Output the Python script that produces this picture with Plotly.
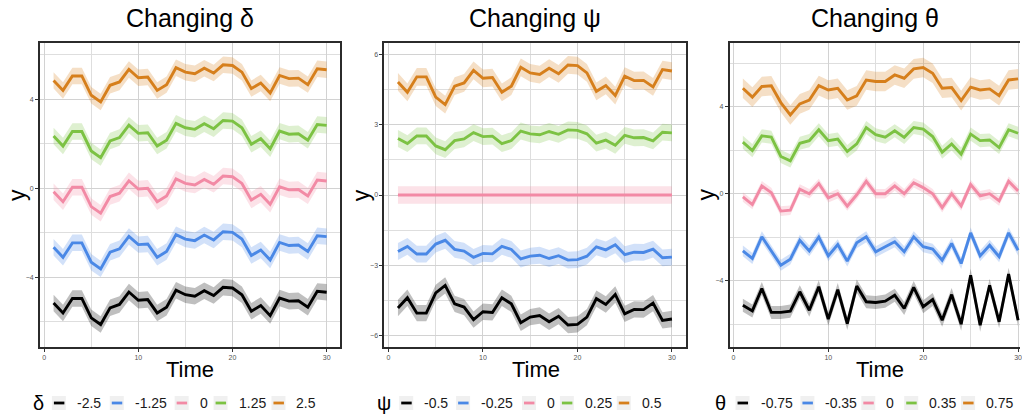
import plotly.graph_objects as go

# ---------------- data ----------------
time = list(range(1, 31))

# Panel 1: Changing delta
delta_levels = ["-2.5", "-1.25", "0", "1.25", "2.5"]
d_m25 = [-5.15,-5.60,-4.95,-4.95,-5.82,-6.12,-5.37,-5.22,-4.66,-5.03,-5.00,-5.60,-5.34,-4.58,-4.78,-4.85,-4.60,-4.82,-4.45,-4.48,-4.78,-5.52,-5.27,-5.72,-4.93,-5.07,-5.05,-5.34,-4.63,-4.67]
d_m125 = [-2.65,-3.10,-2.45,-2.45,-3.32,-3.62,-2.87,-2.72,-2.16,-2.53,-2.50,-3.10,-2.84,-2.08,-2.28,-2.35,-2.10,-2.32,-1.95,-1.98,-2.28,-3.02,-2.77,-3.22,-2.43,-2.57,-2.55,-2.84,-2.13,-2.17]
d_0 = [-0.15,-0.60,0.05,0.05,-0.82,-1.12,-0.37,-0.22,0.34,-0.03,0.00,-0.60,-0.34,0.42,0.22,0.15,0.40,0.18,0.55,0.52,0.22,-0.52,-0.27,-0.72,0.07,-0.07,-0.05,-0.34,0.37,0.33]
d_p125 = [2.35,1.90,2.55,2.55,1.68,1.38,2.13,2.28,2.84,2.47,2.50,1.90,2.16,2.92,2.72,2.65,2.90,2.68,3.05,3.02,2.72,1.98,2.23,1.78,2.57,2.43,2.45,2.16,2.87,2.83]
d_p25 = [4.85,4.40,5.05,5.05,4.18,3.88,4.63,4.78,5.34,4.97,5.00,4.40,4.66,5.42,5.22,5.15,5.40,5.18,5.55,5.52,5.22,4.48,4.73,4.28,5.07,4.93,4.95,4.66,5.37,5.33]
delta_band = [0.37, 0.37, 0.37, 0.37, 0.37]

# Panel 2: Changing psi
psi_levels = ["-0.5", "-0.25", "0", "0.25", "0.5"]
p_m05 = [-4.84,-4.40,-5.06,-5.06,-4.19,-3.87,-4.66,-4.80,-5.34,-5.00,-5.03,-4.40,-4.66,-5.47,-5.23,-5.16,-5.43,-5.19,-5.57,-5.54,-5.23,-4.44,-4.69,-4.26,-5.09,-4.90,-4.91,-4.63,-5.37,-5.31]
p_m025 = [-2.42,-2.20,-2.53,-2.53,-2.10,-1.94,-2.33,-2.40,-2.67,-2.50,-2.52,-2.20,-2.33,-2.74,-2.62,-2.58,-2.72,-2.60,-2.79,-2.77,-2.62,-2.22,-2.35,-2.13,-2.55,-2.45,-2.46,-2.32,-2.69,-2.66]
p_0 = [0.0]*30
p_p025 = [2.42,2.20,2.53,2.53,2.10,1.94,2.33,2.40,2.67,2.50,2.52,2.20,2.33,2.74,2.62,2.58,2.72,2.60,2.79,2.77,2.62,2.22,2.35,2.13,2.55,2.45,2.46,2.32,2.69,2.66]
p_p05 = [4.84,4.40,5.06,5.06,4.19,3.87,4.66,4.80,5.34,5.00,5.03,4.40,4.66,5.47,5.23,5.16,5.43,5.19,5.57,5.54,5.23,4.44,4.69,4.26,5.09,4.90,4.91,4.63,5.37,5.31]
psi_band = [0.35, 0.36, 0.38, 0.36, 0.38]

# Panel 3: Changing theta
theta_levels = ["-0.75", "-0.35", "0", "0.35", "0.75"]
t_m075 = [-5.13,-5.39,-4.36,-5.46,-5.46,-5.40,-4.51,-5.36,-4.28,-5.77,-4.41,-5.97,-4.25,-4.97,-5.00,-4.94,-4.67,-5.28,-4.31,-5.20,-4.87,-5.82,-4.64,-6.00,-3.75,-6.05,-4.21,-5.89,-3.70,-5.82]
t_m035 = [-2.63,-2.98,-1.98,-2.63,-3.29,-3.01,-2.14,-2.63,-2.00,-2.86,-2.34,-3.10,-2.26,-1.98,-2.67,-2.44,-2.21,-2.67,-1.98,-2.44,-2.55,-3.06,-2.29,-3.21,-1.80,-2.86,-2.37,-2.90,-1.80,-2.60]
t_0 = [-0.15,-0.50,0.36,0.05,-0.80,-0.76,0.21,0.00,0.47,-0.19,0.00,-0.57,-0.05,0.57,0.00,0.00,0.36,0.00,0.50,0.28,0.00,-0.64,0.00,-0.56,0.42,-0.10,0.00,-0.33,0.57,0.13]
t_p035 = [2.37,1.98,2.66,2.60,1.71,1.51,2.32,2.44,2.94,2.44,2.51,1.94,2.29,3.04,2.71,2.60,2.89,2.59,3.04,2.97,2.63,1.91,2.29,1.82,2.74,2.44,2.47,2.12,2.94,2.78]
t_p075 = [4.85,4.44,4.93,4.96,4.19,3.62,4.13,4.31,4.97,4.77,4.85,4.31,4.50,5.23,5.16,5.16,5.46,5.31,5.74,5.80,5.54,4.85,4.88,4.28,4.90,4.77,4.82,4.51,5.23,5.28]
theta_band = [0.30, 0.25, 0.22, 0.30, 0.45]

x_ticks = [0, 10, 20, 30]

# ---------------- styling ----------------
W, H = 1022, 414
colors = ["#000000", "#4A88E6", "#F28AA5", "#7CC243", "#D67F1C"]
band_alpha = 0.25
FONT = "Liberation Sans, Arial, Helvetica, sans-serif"

def rgba(hexc, a):
    h = hexc.lstrip("#")
    r, g, b = int(h[0:2], 16), int(h[2:4], 16), int(h[4:6], 16)
    return f"rgba({r},{g},{b},{a})"

def px(X):
    return X / W

def py(Y):
    return 1 - Y / H

panels = [
    dict(series=[d_m25, d_m125, d_0, d_p125, d_p25], band=delta_band, levels=delta_levels,
         sym="δ", dom=(40, 341), xr=[-0.45, 31.45], yr=[-7.13, 6.53], ydt=4, ymdt=2, ytick0=0,
         right=True, ylab_x=17, time_x=190,
         leg_sym_x=39, leg_boxes=[52, 110, 175, 214, 272]),
    dict(series=[p_m05, p_m025, p_0, p_p025, p_p05], band=psi_band, levels=psi_levels,
         sym="ψ", dom=(385, 687), xr=[-0.45, 31.45], yr=[-6.51, 6.51], ydt=3, ymdt=1.5, ytick0=0,
         right=True, ylab_x=362, time_x=537,
         leg_sym_x=385, leg_boxes=[400, 457, 523, 561, 618]),
    dict(series=[t_m075, t_m035, t_0, t_p035, t_p075], band=theta_band, levels=theta_levels,
         sym="θ", dom=(731, 1022), xr=[-0.4, 30.2], yr=[-7.05, 6.93], ydt=4, ymdt=2, ytick0=0,
         right=False, ylab_x=707, time_x=882,
         leg_sym_x=722, leg_boxes=[737, 802, 863, 906, 963]),
]

fig = go.Figure()
annotations = []
shapes = []
ydom = [py(347), py(43)]

for i, p in enumerate(panels, start=1):
    xa = "x" if i == 1 else f"x{i}"
    ya = "y" if i == 1 else f"y{i}"
    for k, (vals, bw) in enumerate(zip(p["series"], p["band"])):
        upper = [v + bw for v in vals]
        lower = [v - bw for v in vals]
        fig.add_trace(go.Scatter(
            x=time + time[::-1], y=upper + lower[::-1], fill="toself",
            fillcolor=rgba(colors[k], band_alpha), line=dict(width=0),
            mode="lines", hoverinfo="skip", showlegend=False, xaxis=xa, yaxis=ya))
    for k, vals in enumerate(p["series"]):
        fig.add_trace(go.Scatter(
            x=time, y=vals, mode="lines", line=dict(color=colors[k], width=2.9),
            name=f"{p['sym']} = {p['levels'][k]}", showlegend=False, xaxis=xa, yaxis=ya))

    axis_common = dict(
        showgrid=True, gridcolor="#d2d2d2", gridwidth=1,
        zeroline=False, ticks="outside", ticklen=3, tickwidth=0.8, tickcolor="#333333",
        tickfont=dict(family=FONT, size=7, color="#555555"),
        showline=True, linecolor="#2b2b2b", linewidth=1.6,
    )
    xkey = "xaxis" if i == 1 else f"xaxis{i}"
    ykey = "yaxis" if i == 1 else f"yaxis{i}"
    fig.update_layout(**{
        xkey: dict(axis_common, domain=[px(p["dom"][0]), px(p["dom"][1])], range=p["xr"],
                   tickmode="array", tickvals=x_ticks, anchor=ya, mirror=True,
                   ticklabeloverflow="allow",
                   minor=dict(tickmode="array", tickvals=[5, 15, 25], showgrid=True,
                              gridcolor="#dedede", gridwidth=0.8, ticks="")),
        ykey: dict(axis_common, domain=ydom, range=p["yr"], tick0=p["ytick0"], dtick=p["ydt"],
                   anchor=xa, mirror=p["right"],
                   minor=dict(dtick=p["ymdt"], tick0=p["ytick0"], showgrid=True,
                              gridcolor="#dedede", gridwidth=0.8, ticks="")),
    })

    cx = (p["dom"][0] + p["dom"][1]) / 2
    annotations.append(dict(text=f"Changing {p['sym']}", x=px(cx), y=py(18), xref="paper", yref="paper",
                            showarrow=False, xanchor="center", yanchor="middle",
                            font=dict(family=FONT, size=25, color="black")))
    annotations.append(dict(text="y", x=px(p["ylab_x"]), y=py(195), xref="paper", yref="paper",
                            showarrow=False, textangle=-90, xanchor="center", yanchor="middle",
                            font=dict(family=FONT, size=23, color="black")))
    annotations.append(dict(text="Time", x=px(p["time_x"]), y=py(369), xref="paper", yref="paper",
                            showarrow=False, xanchor="center", yanchor="middle",
                            font=dict(family=FONT, size=22, color="black")))
    # legend (ggplot-like keys)
    annotations.append(dict(text=p["sym"], x=px(p["leg_sym_x"]), y=py(403), xref="paper", yref="paper",
                            showarrow=False, xanchor="center", yanchor="middle",
                            font=dict(family=FONT, size=20, color="black")))
    for k, bx in enumerate(p["leg_boxes"]):
        shapes.append(dict(type="rect", xref="paper", yref="paper",
                           x0=px(bx), x1=px(bx + 14), y0=py(410), y1=py(396),
                           fillcolor="#f0f0f0", line=dict(width=0), layer="above"))
        shapes.append(dict(type="line", xref="paper", yref="paper",
                           x0=px(bx + 2), x1=px(bx + 12.5), y0=py(403), y1=py(403),
                           line=dict(color=colors[k], width=2.8), layer="above"))
        annotations.append(dict(text=p["levels"][k], x=px(bx + 23), y=py(402.5), xref="paper", yref="paper",
                                showarrow=False, xanchor="left", yanchor="middle",
                                font=dict(family=FONT, size=14, color="#1a1a1a")))

fig.update_layout(
    width=W, height=H, margin=dict(l=0, r=0, t=0, b=0),
    paper_bgcolor="white", plot_bgcolor="white",
    showlegend=False, annotations=annotations, shapes=shapes,
    font=dict(family=FONT),
)

fig.write_html(
    "out.html",
    config={"displayModeBar": False},
    post_script="document.body.style.margin='0px';document.body.style.padding='0px';document.body.style.overflow='hidden';",
)
